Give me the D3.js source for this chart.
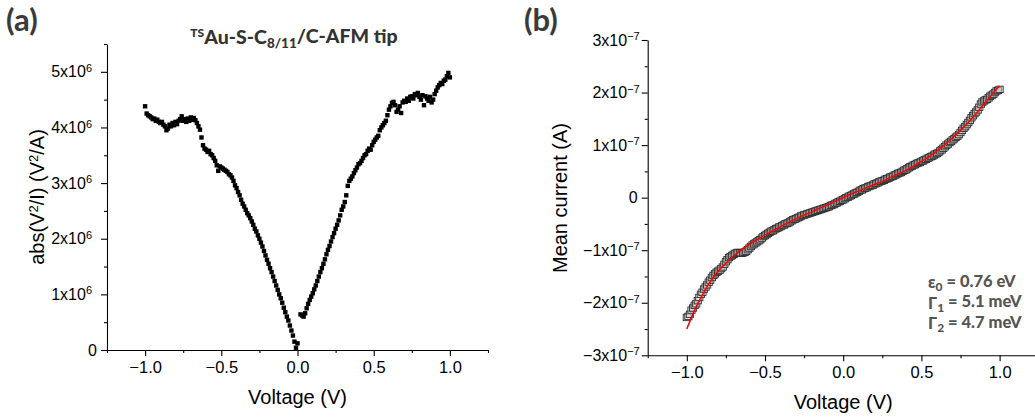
<!DOCTYPE html>
<html><head><meta charset="utf-8">
<script src="https://cdn.jsdelivr.net/npm/d3@7"></script>
<style>body{margin:0;background:#fff}svg{display:block}</style>
</head><body>
<svg id="c" width="1035" height="419"></svg>
<script>
// ---------- DATA ----------
const sweepV = [
-1.00,-0.99,-0.98,-0.97,-0.96,-0.95,-0.94,-0.93,-0.92,-0.91,
-0.90,-0.89,-0.88,-0.87,-0.86,-0.85,-0.84,-0.83,-0.82,-0.81,
-0.80,-0.79,-0.78,-0.77,-0.76,-0.75,-0.74,-0.73,-0.72,-0.71,
-0.70,-0.69,-0.68,-0.67,-0.66,-0.65,-0.64,-0.63,-0.62,-0.61,
-0.60,-0.59,-0.58,-0.57,-0.56,-0.55,-0.54,-0.53,-0.52,-0.51,
-0.50,-0.49,-0.48,-0.47,-0.46,-0.45,-0.44,-0.43,-0.42,-0.41,
-0.40,-0.39,-0.38,-0.37,-0.36,-0.35,-0.34,-0.33,-0.32,-0.31,
-0.30,-0.29,-0.28,-0.27,-0.26,-0.25,-0.24,-0.23,-0.22,-0.21,
-0.20,-0.19,-0.18,-0.17,-0.16,-0.15,-0.14,-0.13,-0.12,-0.11,
-0.10,-0.09,-0.08,-0.07,-0.06,-0.05,-0.04,-0.03,-0.02,-0.01,
0.00,
0.01,0.02,0.03,0.04,0.05,0.06,0.07,0.08,0.09,
0.10,0.11,0.12,0.13,0.14,0.15,0.16,0.17,0.18,0.19,
0.20,0.21,0.22,0.23,0.24,0.25,0.26,0.27,0.28,0.29,
0.30,0.31,0.32,0.33,0.34,0.35,0.36,0.37,0.38,0.39,
0.40,0.41,0.42,0.43,0.44,0.45,0.46,0.47,0.48,0.49,
0.50,0.51,0.52,0.53,0.54,0.55,0.56,0.57,0.58,0.59,
0.60,0.61,0.62,0.63,0.64,0.65,0.66,0.67,0.68,0.69,
0.70,0.71,0.72,0.73,0.74,0.75,0.76,0.77,0.78,0.79,
0.80,0.81,0.82,0.83,0.84,0.85,0.86,0.87,0.88,0.89,
0.90,0.91,0.92,0.93,0.94,0.95,0.96,0.97,0.98,0.99,
1.00];

// Panel (a): abs(V^2/I) in units of 1e6 V^2/A (null = no point)
const absV2overI = [
4.38,4.25,4.22,4.20,4.18,4.15,4.16,4.12,4.14,4.10,
4.08,4.10,4.05,4.02,3.95,3.98,4.05,4.02,4.08,4.04,
4.10,4.06,4.12,4.15,4.20,4.12,4.15,4.10,4.16,4.12,
4.18,4.14,4.17,4.13,4.08,4.02,3.96,3.82,3.68,3.62,
3.60,3.56,3.58,3.52,3.50,3.45,3.40,3.32,3.22,3.30,
3.28,3.26,3.24,3.22,3.20,3.16,3.14,3.10,3.04,2.96,
2.91,2.84,2.78,2.70,2.63,2.58,2.52,2.46,2.42,2.37,
2.31,2.25,2.18,2.13,2.06,2.00,1.93,1.86,1.78,1.70,
1.62,1.55,1.47,1.40,1.32,1.24,1.16,1.08,1.00,0.93,
0.85,0.76,0.68,0.60,0.53,0.44,0.35,0.26,0.15,0.04,
0.12,
null,0.64,0.62,0.60,0.66,0.75,0.83,0.90,0.96,
1.02,1.09,1.16,1.24,1.32,1.40,1.47,1.55,1.63,1.72,
1.80,1.87,1.95,2.03,2.10,2.18,2.25,2.33,2.42,2.52,
2.58,2.66,2.78,2.95,3.04,3.08,3.12,3.18,3.23,3.28,
3.34,3.36,3.40,3.45,3.50,3.52,3.58,3.62,3.60,3.68,
3.74,3.78,3.82,3.85,3.95,4.00,4.04,4.08,4.12,4.22,
4.32,4.38,4.44,4.46,4.40,4.28,4.32,4.38,4.26,4.45,
4.48,4.46,4.52,4.48,4.55,4.56,4.52,4.60,4.58,4.62,
4.55,4.50,4.58,4.40,4.56,4.52,4.48,4.55,4.45,4.50,
4.60,4.66,4.72,4.76,4.80,4.78,4.84,4.86,4.92,4.98,
4.90];

// Panel (b): mean current in units of 1e-7 A
const meanCurrent = [
-2.28,-2.26,-2.22,-2.14,-2.10,-2.05,-2.02,-1.96,-1.90,-1.84,
-1.80,-1.74,-1.70,-1.66,-1.61,-1.57,-1.52,-1.48,-1.45,-1.42,
-1.40,-1.38,-1.35,-1.32,-1.27,-1.22,-1.18,-1.14,-1.12,-1.10,
-1.08,-1.06,-1.05,-1.04,-1.05,-1.06,-1.05,-1.04,-1.02,-0.99,
-0.96,-0.93,-0.90,-0.88,-0.86,-0.84,-0.82,-0.80,-0.77,-0.74,
-0.72,-0.70,-0.68,-0.66,-0.64,-0.63,-0.61,-0.59,-0.58,-0.56,
-0.55,-0.53,-0.52,-0.50,-0.49,-0.48,-0.46,-0.44,-0.42,-0.41,
-0.40,-0.38,-0.37,-0.35,-0.34,-0.33,-0.32,-0.31,-0.30,-0.29,
-0.28,-0.27,-0.26,-0.25,-0.24,-0.23,-0.22,-0.21,-0.20,-0.19,
-0.18,-0.17,-0.15,-0.14,-0.13,-0.11,-0.10,-0.08,-0.07,-0.05,
-0.04,
-0.02,0.00,0.01,0.03,0.04,0.06,0.07,0.09,0.10,
0.12,0.14,0.15,0.17,0.18,0.19,0.21,0.22,0.23,0.24,
0.26,0.27,0.28,0.30,0.31,0.32,0.33,0.35,0.36,0.37,
0.39,0.40,0.41,0.43,0.44,0.46,0.47,0.48,0.50,0.52,
0.53,0.55,0.57,0.59,0.60,0.62,0.63,0.65,0.66,0.67,
0.69,0.70,0.72,0.73,0.75,0.76,0.78,0.79,0.81,0.83,
0.84,0.86,0.89,0.91,0.94,0.97,1.00,1.02,1.05,1.07,
1.10,1.12,1.15,1.17,1.20,1.24,1.28,1.32,1.35,1.39,
1.43,1.47,1.52,1.56,1.60,1.63,1.67,1.72,1.78,1.82,
1.84,1.86,1.87,1.90,1.93,1.95,1.97,2.00,2.03,2.04,
2.06];

// Fit curve (units of 1e-7 A)
const fitV = [-1.00,-0.95,-0.90,-0.85,-0.80,-0.75,-0.70,-0.65,-0.60,-0.55,-0.50,-0.45,-0.40,-0.35,-0.30,-0.25,-0.20,-0.15,-0.10,-0.05,
0.00,0.05,0.10,0.15,0.20,0.25,0.30,0.35,0.40,0.45,0.50,0.55,0.60,0.65,0.70,0.75,0.80,0.85,0.90,0.95,1.00];
const fitI = [-2.50,-2.14,-1.85,-1.60,-1.40,-1.25,-1.11,-0.99,-0.89,-0.80,-0.71,-0.63,-0.55,-0.47,-0.40,-0.33,-0.27,-0.20,-0.14,-0.07,
0.00,0.07,0.13,0.19,0.25,0.31,0.38,0.45,0.52,0.60,0.69,0.78,0.89,1.01,1.14,1.28,1.43,1.60,1.78,1.96,2.13];

const xTicks = [-1.0,-0.5,0.0,0.5,1.0];
const xMinor = [-1.25,-0.75,-0.25,0.25,0.75,1.25];
const yTicksA = [0,1,2,3,4,5];
const yMinorA = [0.5,1.5,2.5,3.5,4.5,5.5];
const yTicksB = [-3,-2,-1,0,1,2,3];
const yMinorB = [-2.5,-1.5,-0.5,0.5,1.5,2.5];
const fitParams = [["ε","0"," = 0.76 eV"],["Γ","1"," = 5.1 meV"],["Γ","2"," = 4.7 meV"]];

// ---------- DRAW ----------
const svg = d3.select("#c");
const TICKFONT = "'Liberation Sans', Arial, sans-serif";
const HEADFONT = "Lato, 'Noto Sans', sans-serif";

function sciTicks(g, expTxt, gapSci, gapZero, fs, sfs) {
  g.selectAll(".tick text").each(function(d){
    const t = d3.select(this);
    t.text(null).attr("font-family", TICKFONT).attr("font-size", fs).attr("fill","#000");
    if (d === 0) { t.attr("x", -gapZero).text("0"); return; }
    t.attr("x", -gapSci);
    const m = d < 0 ? "\u2212" + Math.abs(d) : "" + d;
    t.append("tspan").text(m + "x10");
    t.append("tspan").attr("font-size", sfs).attr("dy", "-0.5em").text(expTxt);
  });
}

function panel(cfg) {
  const x = d3.scaleLinear().domain([-1.25,1.25]).range(cfg.xr);
  const y = d3.scaleLinear().domain(cfg.yd).range(cfg.yr);
  const g = svg.append("g");
  g.append("g").attr("transform",`translate(0,${cfg.yr[0]})`)
    .call(d3.axisBottom(x).tickValues(xMinor).tickSize(3).tickFormat("").tickSizeOuter(0))
    .call(s=>s.select(".domain").remove());
  g.append("g").attr("transform",`translate(${cfg.xr[0]},0)`)
    .call(d3.axisLeft(y).tickValues(cfg.yMinor).tickSize(3).tickFormat("").tickSizeOuter(0))
    .call(s=>s.select(".domain").remove());
  const gx = g.append("g").attr("transform",`translate(0,${cfg.yr[0]})`)
    .call(d3.axisBottom(x).tickValues(xTicks).tickSize(6).tickPadding(5).tickSizeOuter(0).tickFormat(d3.format(".1f")));
  gx.selectAll("text").attr("font-family",TICKFONT).attr("font-size",16.5).attr("fill","#000");
  const gy = g.append("g").attr("transform",`translate(${cfg.xr[0]},0)`)
    .call(d3.axisLeft(y).tickValues(cfg.yTicks).tickSize(6).tickSizeOuter(0));
  sciTicks(gy, cfg.exp, cfg.gapSci, cfg.gapZero, 16, 11);
  g.selectAll(".domain, .tick line").attr("stroke","#000").attr("stroke-width",1.1);
  g.append("text").attr("x", x(0)).attr("y", cfg.xTitleY).attr("text-anchor","middle")
    .attr("font-family",TICKFONT).attr("font-size",20).text("Voltage (V)");
  return {x, y, g};
}

// ----- Panel (a)
const A = panel({xr:[107,488], yr:[350,44], yd:[0,5.5], yTicks:yTicksA, yMinor:yMinorA,
  exp:"6", gapSci:15, gapZero:10, xTitleY:404});
const ptsA = sweepV.map((v,i)=>({v, a:absV2overI[i]})).filter(d=>d.a!==null);
A.g.append("g").selectAll("rect").data(ptsA).join("rect")
  .attr("x", d=>A.x(d.v)-2.2).attr("y", d=>A.y(d.a)-2.2)
  .attr("width",4.4).attr("height",4.4).attr("fill","#000");
const ytA = A.g.append("text").attr("transform","translate(44,197) rotate(-90)")
  .attr("text-anchor","middle").attr("font-family",TICKFONT).attr("font-size",20);
ytA.append("tspan").text("abs(V");
ytA.append("tspan").attr("font-size",13).attr("dy","-0.5em").text("2");
ytA.append("tspan").attr("dy","0.33em").text("/I) (V");
ytA.append("tspan").attr("font-size",13).attr("dy","-0.5em").text("2");
ytA.append("tspan").attr("dy","0.33em").text("/A)");
const tA = svg.append("text").attr("x",294).attr("y",44).attr("text-anchor","middle")
  .attr("font-family",HEADFONT).attr("font-weight","900").attr("font-size",19.5).attr("fill","#333");
tA.append("tspan").attr("font-size",12).attr("dy","-0.55em").text("TS");
tA.append("tspan").attr("dy","0.35em").text("Au-S-C");
tA.append("tspan").attr("font-size",13.5).attr("dy","0.3em").text("8/11");
tA.append("tspan").attr("dy","-0.25em").text("/C-AFM tip");

// ----- Panel (b)
const B = panel({xr:[647.7,1038.7], yr:[355.3,40], yd:[-3,3], yTicks:yTicksB, yMinor:yMinorB,
  exp:"\u22127", gapSci:8, gapZero:10, xTitleY:409});
const ptsB = sweepV.map((v,i)=>({v, c:meanCurrent[i]}));
B.g.append("g").selectAll("rect").data(ptsB).join("rect")
  .attr("x", d=>B.x(d.v)-3.6).attr("y", d=>B.y(d.c)-3.2)
  .attr("width",7.2).attr("height",6.4).attr("fill","#d8d8d8").attr("fill-opacity",0.5)
  .attr("stroke","#2e2e2e").attr("stroke-width",0.9);
const fitPts = fitV.map((v,i)=>[v, fitI[i]]);
B.g.append("path").datum(fitPts)
  .attr("d", d3.line().x(d=>B.x(d[0])).y(d=>B.y(d[1])).curve(d3.curveCatmullRom))
  .attr("fill","none").attr("stroke","#ff0000").attr("stroke-width",1.5);
svg.append("text").attr("transform","translate(567,198) rotate(-90)")
  .attr("text-anchor","middle").attr("font-family",TICKFONT).attr("font-size",20).text("Mean current (A)");
fitParams.forEach((p,i)=>{
  const t = svg.append("text").attr("x",928).attr("y",288+i*20.5)
    .attr("font-family",HEADFONT).attr("font-weight","900").attr("font-size",16.5).attr("fill","#555");
  t.append("tspan").text(p[0]);
  t.append("tspan").attr("font-size",12).attr("dy","0.25em").text(p[1]);
  t.append("tspan").attr("dy","-0.25em").text(p[2]);
});

svg.append("text").attr("x",6).attr("y",31).attr("font-family",HEADFONT).attr("font-weight","bold")
  .attr("font-size",31).attr("fill","#3a3a3a").text("(a)");
svg.append("text").attr("x",524).attr("y",31).attr("font-family",HEADFONT).attr("font-weight","bold")
  .attr("font-size",31).attr("fill","#3a3a3a").text("(b)");
</script>
</body></html>
